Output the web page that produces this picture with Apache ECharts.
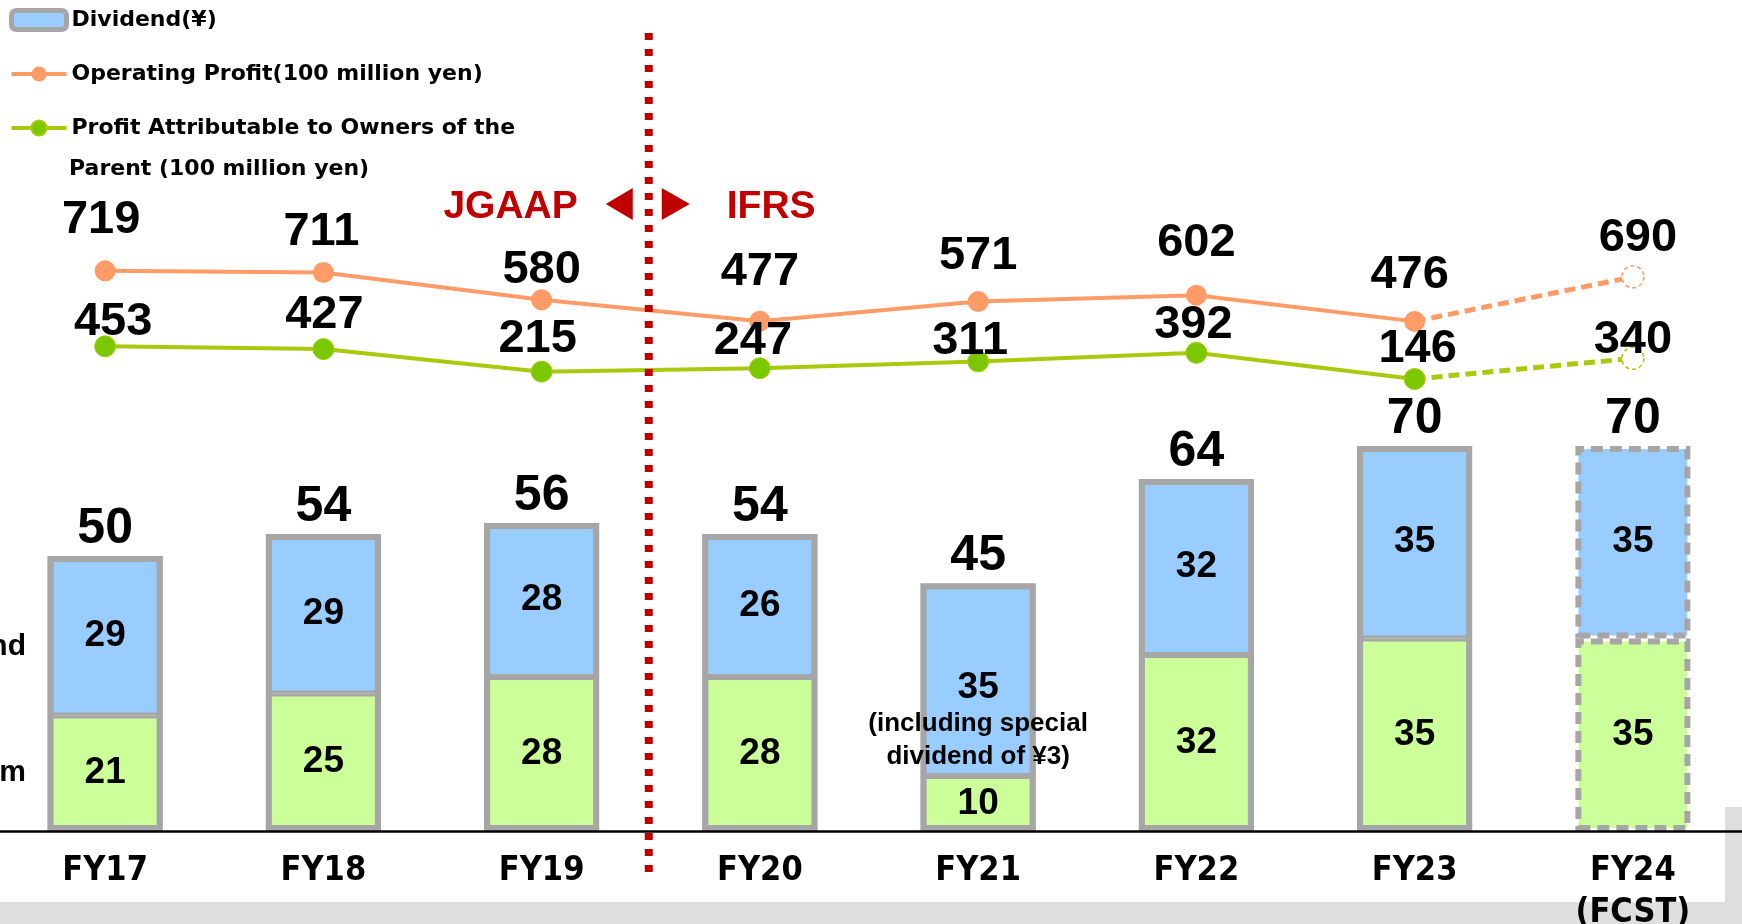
<!DOCTYPE html>
<html>
<head>
<meta charset="utf-8">
<script src="https://cdn.jsdelivr.net/npm/echarts@6/dist/echarts.min.js"></script>
<style>
    html, body { margin: 0; padding: 0; background: #fff; }
    #main { width: 1742px; height: 924px; }
</style>
</head>
<body>
<div id="main"></div>
<script>
const years = ['FY17', 'FY18', 'FY19', 'FY20', 'FY21', 'FY22', 'FY23', 'FY24\n(FCST)']
const interim = [21, 25, 28, 28, 10, 32, 35, 35]
const yearEnd = [29, 29, 28, 26, 35, 32, 35, 35]
const dividendTotal = [50, 54, 56, 54, 45, 64, 70, 70]
const opProfit = [719, 711, 580, 477, 571, 602, 476, 690]
const netProfit = [453, 427, 215, 247, 311, 392, 146, 340]
const fcst = 7
const specialYear = 'FY21'

// label nudges (the slide places its numbers by hand)
const opLabelShift = [[-4, -51], [-2, -40], [0, -30], [0, -49], [0, -46], [0, -52], [-5, -46], [5, -39]]
const netLabelShift = [[8, -24], [1, -34], [-4, -33], [-7, -27], [-8, -20], [-3, -28], [3, -30], [0, -18]]

const divName = 'Dividend(¥)'
const opName = 'Operating Profit(100 million yen)'
const netName = 'Profit Attributable to Owners of the Parent (100 million yen)'

const numFont = "'Liberation Sans', Arial, sans-serif"
const gray = '#a6a6a6'
const orange = '#ff9b66'
const lime = '#a9c90c'
const limeDot = '#7cc800'
const dash = [12, 7]

const segItem = (v, i) => {
    let item = { value: v }
    if (i === fcst) {
        item.itemStyle = { borderType: dash, borderWidth: 6 }
    }
    return item
}

// solid part up to FY23, dashed forecast part FY23 -> FY24
const solidPart = (arr, shift) => arr.map((v, i) => {
    if (i === fcst) {
        return '-'
    }
    return { value: v, label: { offset: shift[i] } }
})
const fcstPart = (arr, col, shift) => arr.map((v, i) => {
    if (i === fcst - 1) {
        return { value: v, symbol: 'none', label: { show: false } }
    }
    if (i === fcst) {
        return {
            value: v,
            label: { offset: shift[i] },
            itemStyle: { color: '#fff', borderColor: col, borderWidth: 1.5, borderType: [4, 3] },
        }
    }
    return '-'
})

// the FY21 year-end label with its note, put at the middle of the blue block
const noteData = years.map((y, i) => y === specialYear ? interim[i] + yearEnd[i] / 2 : '-')

const bigLabel = {
    show: true,
    position: 'inside',
    color: '#000',
    fontFamily: numFont,
    fontWeight: 'bold',
    fontSize: 47,
}
const segLabel = {
    show: true,
    position: 'inside',
    color: '#000',
    fontFamily: numFont,
    fontWeight: 'bold',
    fontSize: 37,
}

const chart = echarts.init(document.querySelector('#main'))

const option = {
    animation: false,
    grid: { left: -4, right: 0, top: 0, bottom: 93, outerBoundsMode: 'none' },
    legend: {
        orient: 'vertical',
        left: 9,
        top: 0,
        padding: 0,
        itemGap: 14,
        itemWidth: 55,
        itemHeight: 19,
        data: [
            { name: divName, icon: 'roundRect', itemStyle: { color: '#99ccff', borderColor: gray, borderWidth: 5 } },
            { name: opName, lineStyle: { width: 4 } },
            { name: netName, lineStyle: { width: 4 } },
        ],
        formatter: name => name === netName ? 'Profit Attributable to Owners of the' : name,
        textStyle: {
            fontFamily: "'DejaVu Sans', sans-serif",
            fontWeight: 'bold',
            fontSize: 22,
            lineHeight: 40,
            color: '#000',
        },
    },
    xAxis: {
        type: 'category',
        data: years,
        axisTick: { show: false },
        axisLine: { lineStyle: { color: '#000', width: 2.5 } },
        axisLabel: {
            color: '#000',
            fontFamily: "'Liberation Sans Narrow', 'DejaVu Sans Condensed', sans-serif",
            fontWeight: 'bold',
            fontSize: 34,
            lineHeight: 42,
            margin: 19,
        },
        z: 5,
    },
    yAxis: [
        { type: 'value', min: 0, max: 151.1, show: false },
        { type: 'value', min: -1974, max: 2021, show: false },
        { type: 'value', min: -4098, max: 3705, show: false },
    ],
    series: [
        {
            name: 'Interim',
            type: 'bar',
            stack: 'div',
            barWidth: 115,
            barGap: '-100%',
            data: interim.map(segItem),
            itemStyle: { color: '#ccff99', borderColor: gray, borderWidth: 3 },
            label: segLabel,
        },
        {
            name: divName,
            type: 'bar',
            stack: 'div',
            barWidth: 115,
            barGap: '-100%',
            data: yearEnd.map((v, i) => {
                let item = segItem(v, i)
                if (years[i] === specialYear) {
                    item.label = { show: false }
                }
                return item
            }),
            itemStyle: { color: '#99ccff', borderColor: gray, borderWidth: 3 },
            label: segLabel,
        },
        {
            // frame round the whole stack, carries the total
            name: 'total',
            type: 'bar',
            barWidth: 115,
            barGap: '-100%',
            data: dividendTotal.map((v, i) => i === fcst ? { value: v, itemStyle: { borderWidth: 0 } } : v),
            itemStyle: { color: 'rgba(0,0,0,0)', borderColor: gray, borderWidth: 6 },
            label: {
                show: true,
                position: 'top',
                distance: 2,
                color: '#000',
                fontFamily: numFont,
                fontWeight: 'bold',
                fontSize: 50,
            },
            z: 4,
        },
        {
            name: 'special note',
            type: 'scatter',
            symbolSize: 0,
            data: noteData,
            itemStyle: { opacity: 1 },
            label: {
                show: true,
                position: 'inside',
                offset: [0, 41],
                opacity: 1,
                formatter: p => '{v|' + yearEnd[p.dataIndex] + '}\n{n|(including special}\n{n|dividend of ¥3)}',
                rich: {
                    v: { fontFamily: numFont, fontWeight: 'bold', fontSize: 37, lineHeight: 40, color: '#000' },
                    n: { fontFamily: numFont, fontWeight: 'bold', fontSize: 26, lineHeight: 33, color: '#000' },
                },
            },
            z: 6,
        },
        {
            name: opName,
            type: 'line',
            yAxisIndex: 1,
            data: solidPart(opProfit, opLabelShift),
            symbol: 'circle',
            symbolSize: 21,
            lineStyle: { color: orange, width: 4 },
            itemStyle: { color: orange },
            label: bigLabel,
            z: 3,
        },
        {
            name: 'Operating Profit forecast',
            type: 'line',
            yAxisIndex: 1,
            data: fcstPart(opProfit, orange, opLabelShift),
            symbol: 'circle',
            symbolSize: 22,
            lineStyle: { color: orange, width: 5, type: [11, 6] },
            itemStyle: { color: orange },
            label: bigLabel,
            z: 3,
        },
        {
            name: netName,
            type: 'line',
            yAxisIndex: 2,
            data: solidPart(netProfit, netLabelShift),
            symbol: 'circle',
            symbolSize: 21,
            lineStyle: { color: lime, width: 4 },
            itemStyle: { color: limeDot, borderColor: lime, borderWidth: 1 },
            label: bigLabel,
            z: 3,
        },
        {
            name: 'Profit Attributable forecast',
            type: 'line',
            yAxisIndex: 2,
            data: fcstPart(netProfit, lime, netLabelShift),
            symbol: 'circle',
            symbolSize: 22,
            lineStyle: { color: lime, width: 5, type: [11, 6] },
            itemStyle: { color: limeDot },
            label: bigLabel,
            z: 3,
        },
    ],
}

chart.setOption(option)

// JGAAP | IFRS divider sits between FY19 and FY20
const x19 = chart.convertToPixel({ xAxisIndex: 0 }, 2)
const x20 = chart.convertToPixel({ xAxisIndex: 0 }, 3)
const xd = (x19 + x20) / 2 - 2
const red = '#c00000'
const redText = {
    fill: red,
    fontFamily: numFont,
    fontWeight: 'bold',
    fontSize: 39,
    verticalAlign: 'middle',
}
const sideText = {
    fill: '#000',
    fontFamily: numFont,
    fontWeight: 'bold',
    fontSize: 30,
    align: 'right',
    verticalAlign: 'middle',
}

chart.setOption({
    graphic: [
        { type: 'rect', z: -10, shape: { x: 0, y: 902, width: 1742, height: 22 }, style: { fill: '#dedede' } },
        { type: 'rect', z: -10, shape: { x: 1725, y: 807, width: 17, height: 117 }, style: { fill: '#dedede' } },
        {
            type: 'text', left: 69, top: 158,
            style: {
                text: 'Parent (100 million yen)',
                fill: '#000',
                fontFamily: "'DejaVu Sans', sans-serif",
                fontWeight: 'bold',
                fontSize: 22,
            },
        },
        { type: 'text', x: 26, y: 647, style: Object.assign({ text: 'Year-end' }, sideText) },
        { type: 'text', x: 26, y: 773, style: Object.assign({ text: 'Interim' }, sideText) },
        {
            type: 'line', z: 50,
            shape: { x1: xd, y1: 33, x2: xd, y2: 872 },
            style: { stroke: red, lineWidth: 8, lineDash: [7, 9] },
        },
        { type: 'text', x: xd - 71, y: 207, z: 50, style: Object.assign({ text: 'JGAAP', align: 'right' }, redText) },
        { type: 'text', x: xd + 78, y: 207, z: 50, style: Object.assign({ text: 'IFRS', align: 'left' }, redText) },
        {
            type: 'polygon', z: 50,
            shape: { points: [[xd - 43, 204], [xd - 16, 188], [xd - 16, 220]] },
            style: { fill: red },
        },
        {
            type: 'polygon', z: 50,
            shape: { points: [[xd + 13, 188], [xd + 13, 220], [xd + 41, 204]] },
            style: { fill: red },
        },
    ],
})
</script>
</body>
</html>
